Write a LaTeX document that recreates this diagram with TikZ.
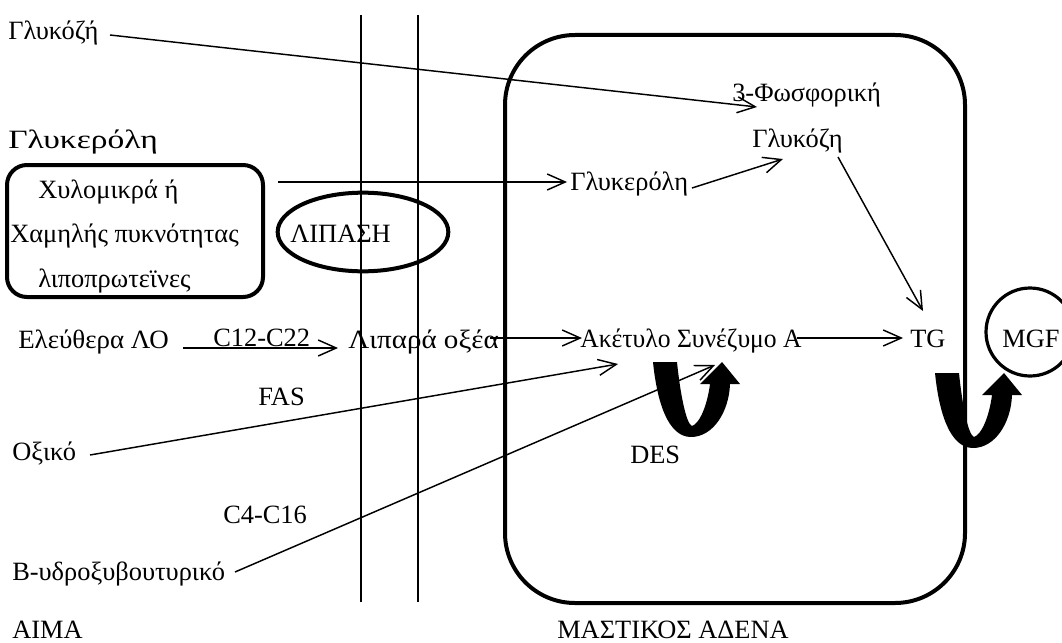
\documentclass[tikz,border=0pt]{standalone}
\usepackage{fontspec}
\usepackage{graphicx}
\setmainfont{Liberation Serif}
\usetikzlibrary{arrows.meta,shapes.geometric}
\tikzset{
  lbl/.style={inner sep=0pt, anchor=base west, font=\fontsize{19.8}{24}\selectfont},
  conn/.style={line width=1.1pt, -{Straight Barb[length=13.5pt,width=12pt,line width=1.1pt]}},
  membrane/.style={line width=1.5pt},
  heavy/.style={line width=3pt},
  uturn/.pic={
    \fill (0,0) -- (24,0)
      .. controls (27,30) and (33,62) .. (39,64)
      .. controls (46,62) and (54,45) .. (57,22)
      -- (47,22) -- (69,0) -- (87,22) -- (77,22)
      .. controls (76,50) and (60,75) .. (38,75)
      .. controls (15,75) and (4,40) .. (0,0) -- cycle;
  }
}
\newcommand{\wide}[2]{\scalebox{#1}[1]{#2}}
\begin{document}
\begin{tikzpicture}[x=0.75pt,y=-0.75pt]
\useasboundingbox (0,0) rectangle (1062,642);

% cell membrane (double line)
\draw[membrane] (361,15) -- (361,602);
\draw[membrane] (418,15) -- (418,602);

% mammary gland cell
\draw[heavy, rounded corners=52.5pt] (505,35) rectangle (965,603);

% lipoprotein box and lipase
\draw[heavy, rounded corners=15pt] (7,165) rectangle (263,297);
\node (lipase) [draw, ellipse, heavy, inner sep=0pt, minimum width=128pt, minimum height=59pt] at (363,232) {};

% MGF circle
\node (mgf) [draw, circle, line width=2.4pt, inner sep=0pt, minimum size=66pt] at (1030,332) {};

% labels
\node[lbl] (glukL) at (8,40) {Γλυκόζή};
\node[lbl] (glycL) at (8,148) {\wide{1.27}{Γλυκερόλη}};
\node[lbl] (chylo1) at (38,198) {Χυλομικρά ή};
\node[lbl] (chylo2) at (10,242) {Χαμηλής πυκνότητας};
\node[lbl] (chylo3) at (38,287) {λιποπρωτεϊνες};
\node[lbl] (lipaseT) at (290,242) {ΛΙΠΑΣΗ};
\node[lbl] (ffa) at (18,348) {\wide{1.02}{Ελεύθερα ΛΟ}};
\node[lbl] (c12) at (213,346) {C12-C22};
\node[lbl] (fa) at (348,348) {\wide{1.1}{Λιπαρά οξέα}};
\node[lbl] (acoa) at (580,347) {\wide{0.97}{Ακέτυλο Συνέζυμο Α}};
\node[lbl] (tg) at (910,347) {TG};
\node[lbl] (mgfT) at (1002,347) {MGF};
\node[lbl] (fas) at (258,405) {FAS};
\node[lbl] (acet) at (12,460) {Οξικό};
\node[lbl] (des) at (630,463) {DES};
\node[lbl] (c4) at (223,523) {C4-C16};
\node[lbl] (bhb) at (12,580) {Β-υδροξυβουτυρικό};
\node[lbl] (blood) at (12,638) {ΑΙΜΑ};
\node[lbl] (gland) at (557,638) {ΜΑΣΤΙΚΟΣ ΑΔΕΝΑ};
\node[lbl] (g3p) at (732,101) {3-Φωσφορική};
\node[lbl] (g3p2) at (752,147) {Γλυκόζη};
\node[lbl] (glycI) at (570,190) {Γλυκερόλη};

% connector end points
\coordinate (glukS) at (110,35);
\coordinate (g3pE) at (757,107);
\coordinate (boxS) at (278,182);
\coordinate (glycE) at (567,182);
\coordinate (glycS) at (692,188);
\coordinate (g3pE2) at (783,159);
\coordinate (g3pS) at (838,157);
\coordinate (tgE) at (923,311);
\coordinate (ffaS) at (183,348);
\coordinate (faE) at (338,348);
\coordinate (faS) at (490,338);
\coordinate (acoaE) at (582,338);
\coordinate (acoaS) at (797,338);
\coordinate (tgE2) at (903,338);
\coordinate (acetS) at (90,455);
\coordinate (acetE) at (618,364);
\coordinate (bhbS) at (235,572);
\coordinate (bhbE) at (715,365);

% connectors
\draw[conn] (glukS) -- (g3pE);
\draw[conn] (boxS) -- (glycE);
\draw[conn] (glycS) -- (g3pE2);
\draw[conn] (g3pS) -- (tgE);
\draw[conn] (ffaS) -- (faE);
\draw[conn] (faS) -- (acoaE);
\draw[conn] (acoaS) -- (tgE2);
\draw[conn] (acetS) -- (acetE);
\draw[conn] (bhbS) -- (bhbE);

% desaturase turn-arrows
\pic at (653,362) {uturn};
\pic at (935,373) {uturn};
\end{tikzpicture}
\end{document}
